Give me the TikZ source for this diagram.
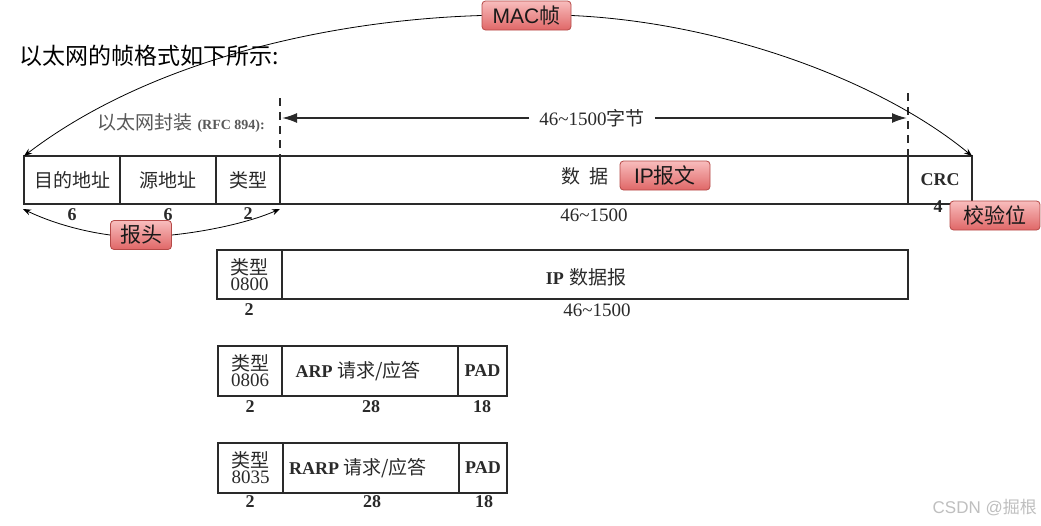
\documentclass[tikz,border=0pt]{standalone}
\usepackage{fontspec}
\setmainfont{Liberation Serif}
\newfontfamily\cjk{Noto Sans CJK SC}
\newfontfamily\lsans{Liberation Sans}
\usetikzlibrary{arrows.meta}
\definecolor{lbltop}{HTML}{F8BDBD}
\definecolor{lblbot}{HTML}{E06767}
\definecolor{lblborder}{HTML}{B54A48}
\definecolor{scan}{HTML}{2A2A2A}
\begin{document}
\begin{tikzpicture}[x=1pt,y=-1pt,
  field/.style={draw=scan, line width=1.3pt, inner sep=0pt, outer sep=0pt,
    anchor=north west, text=scan, font=\cjk\fontsize{19}{22}\selectfont},
  typefield/.style={field, align=center, font=\fontsize{19}{16}\selectfont},
  lbl/.style={draw=lblborder, line width=0.8pt, rounded corners=3.5pt,
    top color=lbltop, bottom color=lblbot, inner sep=0pt, text=black!90,
    font=\lsans\fontsize{21}{24}\selectfont, minimum height=29pt},
  num/.style={text=scan, font=\bfseries\fontsize{18}{20}\selectfont, inner sep=0pt},
  rng/.style={text=scan, font=\fontsize{19}{21}\selectfont, inner sep=0pt},
  thinarr/.style={draw=black, line width=0.8pt, -{Stealth[length=8pt,width=6pt]}},
  bigarr/.style={draw=scan, line width=1.8pt, -{Latex[length=15pt,width=10pt]}},
  dashline/.style={draw=scan, line width=1.5pt, dash pattern=on 8pt off 6pt}
]
\useasboundingbox (0,0) rectangle (1041,525);
\fill[white] (0,0) rectangle (1041,525);

% title
\node[anchor=west, inner sep=0pt, font=\cjk\fontsize{23}{27}\selectfont] (title) at (19,56) {以太网的帧格式如下所示:};

% encapsulation label
\node[anchor=east, inner sep=0pt, text=black!65] (rfc) at (265,123)
  {{\cjk\fontsize{19}{22}\selectfont 以太网封装}\hspace{5pt}{\bfseries\fontsize{14}{16}\selectfont (RFC 894):}};

% main frame
\node[field, minimum width=96pt, minimum height=48pt] (dst) at (24,156) {目的地址};
\node[field, minimum width=96pt, minimum height=48pt] (src) at (120,156) {源地址};
\node[field, minimum width=64pt, minimum height=48pt] (typ) at (216,156) {类型};
\node[field, minimum width=628pt, minimum height=48pt] (data) at (280,156) {};
\node[field, minimum width=64pt, minimum height=48pt, font=\bfseries\fontsize{18}{20}\selectfont] (crc) at (908,156) {CRC};
\node[text=scan, inner sep=0pt, font=\cjk\fontsize{19}{22}\selectfont] (shuju) at (585,176) {数\hspace{9pt}据};

% sizes under main frame
\node[num] (n6a) at (72,215) {6};
\node[num] (n6b) at (168,215) {6};
\node[num] (n2a) at (248,214) {2};
\node[rng] (n46a) at (594,215) {46\char`~1500};
\node[num] (n4) at (938,207) {4};

% dashed markers and 46~1500 arrow
\coordinate (d1t) at (280,98);
\coordinate (d1b) at (280,156);
\coordinate (d2t) at (908,93);
\coordinate (d2b) at (908,156);
\draw[dashline] (d1t) -- (d1b);
\draw[dashline] (d2t) -- (d2b);
\node[text=scan, inner xsep=10pt, inner ysep=0pt] (t46) at (592,118)
  {{\fontsize{19}{21}\selectfont 46\char`~1500}{\cjk\fontsize{19}{22}\selectfont 字节}};
\coordinate (al) at (282,118);
\coordinate (ar) at (907,118);
\draw[bigarr] (t46.west) -- (al);
\draw[bigarr] (t46.east) -- (ar);

% IP row
\node[typefield, minimum width=65pt, minimum height=49pt] (ipt) at (217,250) {{\cjk 类型}\\0800};
\node[field, minimum width=626pt, minimum height=49pt] (ipd) at (282,250) {};
\node[text=scan, inner sep=0pt] (iptxt) at (586,277)
  {{\bfseries\fontsize{18}{20}\selectfont IP}\hspace{3pt} {\cjk\fontsize{19}{22}\selectfont 数据报}};
\node[num] (n2b) at (249,310) {2};
\node[rng] (n46b) at (597,310) {46\char`~1500};

% ARP row
\node[typefield, minimum width=64pt, minimum height=50pt] (arpt) at (218,346) {{\cjk 类型}\\0806};
\node[field, minimum width=176pt, minimum height=50pt] (arpd) at (282,346) {};
\node[field, minimum width=49pt, minimum height=50pt, font=\bfseries\fontsize{18}{20}\selectfont] (arpp) at (458,346) {PAD};
\node[text=scan, inner sep=0pt] (arptxt) at (358,371)
  {{\bfseries\fontsize{18}{20}\selectfont ARP}\hspace{2pt} {\cjk\fontsize{19}{22}\selectfont 请求/应答}};
\node[num] (n2c) at (250,407) {2};
\node[num] (n28a) at (371,407) {28};
\node[num] (n18a) at (482,407) {18};

% RARP row
\node[typefield, minimum width=65pt, minimum height=50pt] (rarpt) at (218,443) {{\cjk 类型}\\8035};
\node[field, minimum width=176pt, minimum height=50pt] (rarpd) at (283,443) {};
\node[field, minimum width=48pt, minimum height=50pt, font=\bfseries\fontsize{18}{20}\selectfont] (rarpp) at (459,443) {PAD};
\node[text=scan, inner sep=0pt] (rarptxt) at (358,468)
  {{\bfseries\fontsize{18}{20}\selectfont RARP}\hspace{2pt} {\cjk\fontsize{19}{22}\selectfont 请求/应答}};
\node[num] (n2d) at (250,502) {2};
\node[num] (n28b) at (372,502) {28};
\node[num] (n18b) at (484,502) {18};

% annotation labels
\node[lbl, minimum width=89pt] (mac) at (526.5,15.5) {MAC{\cjk 帧}};
\node[lbl, minimum width=61pt, font=\cjk\fontsize{21}{24}\selectfont] (bt) at (141,235) {报头};
\node[lbl, minimum width=90pt] (ipb) at (665,175.5) {IP{\cjk 报文}};
\node[lbl, minimum width=90pt, font=\cjk\fontsize{21}{24}\selectfont] (jyw) at (995,215.5) {校验位};

% annotation arcs
\draw[thinarr] (mac.west) .. controls (330,20) and (150,60) .. (dst.north west);
\draw[thinarr] (mac.east) .. controls (720,22) and (880,80) .. (crc.north east);
\coordinate (hl) at (23,209);
\coordinate (hr) at (280,209);
\draw[thinarr] (bt.west) .. controls (80,231) and (50,222) .. (hl);
\draw[thinarr] (bt.east) .. controls (210,231) and (250,222) .. (hr);

% watermark
\node[anchor=east, inner sep=0pt, text=black!25, font=\lsans\fontsize{17}{20}\selectfont] (wm) at (1037,508) {CSDN @{\cjk 掘根}};
\end{tikzpicture}
\end{document}
